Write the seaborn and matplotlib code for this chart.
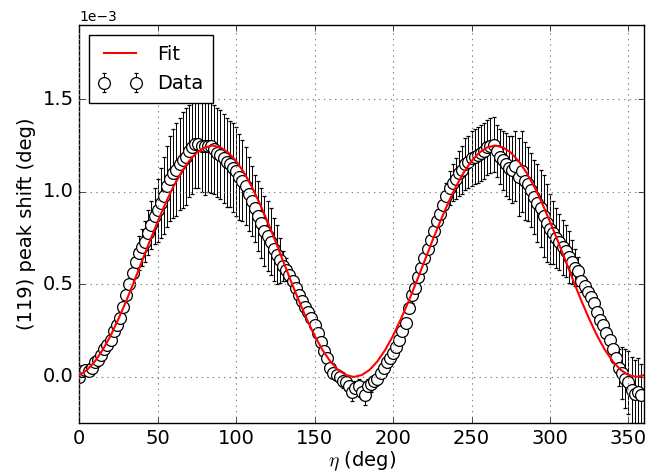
import numpy as np
import pandas as pd
import matplotlib
matplotlib.use("Agg")
import matplotlib.pyplot as plt
import seaborn as sns

# measured points, eta every 2 deg (peak shift in units of 1e-3 deg)
eta = np.arange(0, 360, 2)
shift = [
    0.00, 0.03, 0.04, 0.03, 0.05, 0.08, 0.09, 0.12, 0.15, 0.17,
    0.20, 0.25, 0.28, 0.32, 0.38, 0.44, 0.50, 0.56, 0.62, 0.67,
    0.70, 0.73, 0.78, 0.82, 0.87, 0.90, 0.94, 0.98, 1.03, 1.07,
    1.10, 1.12, 1.15, 1.17, 1.19, 1.22, 1.24, 1.26, 1.26, 1.25,
    1.245, 1.25, 1.245, 1.23, 1.21, 1.20, 1.18, 1.16, 1.15, 1.13,
    1.11, 1.08, 1.06, 1.03, 0.99, 0.95, 0.91, 0.87, 0.83, 0.79,
    0.76, 0.73, 0.69, 0.66, 0.63, 0.60, 0.58, 0.55, 0.52, 0.48,
    0.44, 0.41, 0.38, 0.35, 0.32, 0.28, 0.24, 0.19, 0.14, 0.10,
    0.05, 0.02, 0.01, 0.00, -0.02, -0.03, -0.05, -0.08, -0.06, -0.05,
    -0.08, -0.10, -0.05, -0.04, -0.02, -0.01, 0.02, 0.05, 0.08, 0.10,
    0.13, 0.16, 0.20, 0.25, 0.29, 0.37, 0.44, 0.48, 0.54, 0.59,
    0.64, 0.69, 0.74, 0.79, 0.84, 0.88, 0.93, 0.98, 1.02, 1.05,
    1.07, 1.10, 1.12, 1.15, 1.16, 1.18, 1.19, 1.20, 1.21, 1.22,
    1.24, 1.25, 1.255, 1.22, 1.19, 1.17, 1.15, 1.13, 1.12, 1.14,
    1.08, 1.11, 1.06, 1.04, 1.01, 0.97, 0.94, 0.91, 0.87, 0.83,
    0.80, 0.78, 0.75, 0.73, 0.70, 0.68, 0.65, 0.62, 0.59, 0.57,
    0.52, 0.49, 0.46, 0.43, 0.40, 0.35, 0.31, 0.28, 0.24, 0.20,
    0.15, 0.10, 0.05, 0.02, -0.01, -0.03, -0.07, -0.09, -0.08, -0.10,
]
err = [
    0.02, 0.02, 0.02, 0.02, 0.02, 0.02, 0.02, 0.02, 0.02, 0.02,
    0.02, 0.02, 0.02, 0.02, 0.02, 0.02, 0.03, 0.05, 0.07, 0.09,
    0.10, 0.11, 0.12, 0.13, 0.15, 0.17, 0.19, 0.21, 0.22, 0.23,
    0.24, 0.25, 0.25, 0.26, 0.26, 0.25, 0.25, 0.24, 0.24, 0.25,
    0.26, 0.25, 0.25, 0.24, 0.24, 0.24, 0.24, 0.24, 0.23, 0.24,
    0.24, 0.23, 0.22, 0.21, 0.20, 0.19, 0.18, 0.19, 0.19, 0.19,
    0.19, 0.18, 0.17, 0.16, 0.12, 0.08, 0.06, 0.05, 0.03, 0.02,
    0.02, 0.02, 0.02, 0.02, 0.02, 0.02, 0.02, 0.02, 0.02, 0.02,
    0.02, 0.02, 0.02, 0.02, 0.04, 0.04, 0.04, 0.05, 0.04, 0.04,
    0.04, 0.05, 0.04, 0.04, 0.02, 0.02, 0.02, 0.02, 0.02, 0.02,
    0.02, 0.02, 0.02, 0.02, 0.02, 0.02, 0.04, 0.04, 0.03, 0.02,
    0.02, 0.02, 0.02, 0.02, 0.02, 0.02, 0.05, 0.07, 0.09, 0.10,
    0.11, 0.12, 0.13, 0.14, 0.14, 0.15, 0.15, 0.15, 0.15, 0.15,
    0.15, 0.15, 0.15, 0.14, 0.15, 0.16, 0.17, 0.17, 0.18, 0.19,
    0.21, 0.22, 0.21, 0.20, 0.20, 0.20, 0.21, 0.21, 0.22, 0.21,
    0.19, 0.17, 0.16, 0.15, 0.15, 0.14, 0.14, 0.12, 0.10, 0.08,
    0.06, 0.04, 0.03, 0.02, 0.02, 0.02, 0.02, 0.02, 0.02, 0.02,
    0.02, 0.05, 0.10, 0.14, 0.16, 0.17, 0.18, 0.18, 0.18, 0.17,
]

fit_eta = np.arange(0, 361, 5)
fit_shift = [
    0.010, 0.038, 0.084, 0.146, 0.223, 0.313, 0.411, 0.516, 0.625, 0.734,
    0.839, 0.938, 1.027, 1.104, 1.166, 1.212, 1.240, 1.250, 1.240, 1.212,
    1.166, 1.104, 1.027, 0.938, 0.839, 0.734, 0.625, 0.516, 0.411, 0.313,
    0.223, 0.146, 0.084, 0.038, 0.010, 0.000, 0.010, 0.038, 0.084, 0.146,
    0.223, 0.313, 0.411, 0.516, 0.625, 0.734, 0.839, 0.938, 1.027, 1.104,
    1.166, 1.212, 1.240, 1.250, 1.240, 1.212, 1.166, 1.104, 1.027, 0.938,
    0.839, 0.734, 0.625, 0.516, 0.411, 0.313, 0.223, 0.146, 0.084, 0.038,
    0.010, 0.000, 0.010,
]

df = pd.DataFrame({'eta': eta, 'shift': np.array(shift) * 1e-3, 'err': np.array(err) * 1e-3})
df_fit = pd.DataFrame({'eta': fit_eta, 'shift': np.array(fit_shift) * 1e-3})

plt.style.use('classic')
plt.rcParams['font.family'] = ['DejaVu Sans']
plt.rcParams['font.size'] = 14

fig = plt.figure(figsize=(6.6, 4.75), dpi=100, facecolor='white')
ax = fig.add_axes([0.12, 0.109, 0.856, 0.838])

ax.errorbar(df['eta'], df['shift'], yerr=df['err'], fmt='o', color='black',
            mfc='white', mec='black', ms=8.5, mew=0.9, elinewidth=0.7,
            capsize=1.5, capthick=0.7, label='Data', zorder=2)
sns.lineplot(data=df_fit, x='eta', y='shift', color='red', lw=1.5,
             label='Fit', ax=ax, zorder=3)

ax.set_xlim(0, 360)
ax.set_ylim(-0.25e-3, 1.9e-3)
ax.set_xticks(np.arange(0, 351, 50))
ax.set_yticks([0.0, 0.5e-3, 1.0e-3, 1.5e-3])
ax.ticklabel_format(axis='y', style='sci', scilimits=(0, 0))
ax.yaxis.get_offset_text().set_fontsize(10)
ax.grid(True, linestyle=':', color='gray', linewidth=0.8)
ax.set_xlabel(r'$\eta$ (deg)', fontsize=14, labelpad=1)
ax.set_ylabel('(119) peak shift (deg)', fontsize=14)
ax.tick_params(labelsize=14)

ax.legend(loc='upper left', numpoints=2, fontsize=14, fancybox=False,
          handlelength=2.2, borderpad=0.5, labelspacing=0.55)

fig.savefig('out.png', dpi=100, facecolor='white')
